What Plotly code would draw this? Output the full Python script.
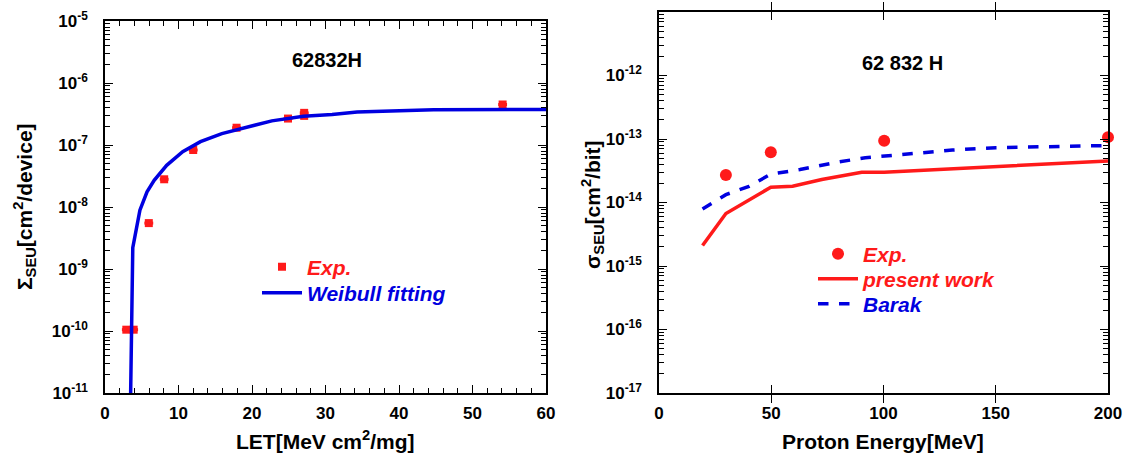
import plotly.graph_objects as go

# ---- Left panel data ----
let_exp = [2.9, 3.9, 5.96, 8.05, 12.0, 17.9, 24.9, 27.1, 27.1, 54.1]
sig_exp = [1.05e-10, 1.05e-10, 5.5e-9, 2.8e-8, 8.3e-8, 1.9e-7, 2.67e-7, 3.3e-7, 2.95e-7, 4.5e-7]

let_fit = [3.49, 3.59, 3.78, 4.75, 5.72, 6.69, 8.39, 10.57, 12.99, 15.9, 19.8, 22.7, 27.0, 30.9, 34.3, 39.2, 44.7, 60.0]
sig_fit = [1e-11, 1.0e-10, 2.2e-9, 8.9e-9, 1.76e-8, 2.7e-8, 4.7e-8, 7.8e-8, 1.13e-7, 1.53e-7, 2.0e-7,
           2.45e-7, 2.9e-7, 3.1e-7, 3.4e-7, 3.5e-7, 3.7e-7, 3.75e-7]

# ---- Right panel data ----
e_exp = [29.8, 49.8, 100.3, 200.0]
s_exp = [2.7e-14, 6.2e-14, 9.4e-14, 1.07e-13]

e_pw = [19.4, 29.8, 49.8, 59.5, 72.5, 90.3, 100.3, 150.2, 200.0]
s_pw = [2.1e-15, 6.7e-15, 1.74e-14, 1.8e-14, 2.3e-14, 3.0e-14, 3.0e-14, 3.7e-14, 4.5e-14]

e_bk = [19.4, 29.8, 40.1, 49.8, 62.8, 79.0, 91.9, 113.0, 130.7, 150.0, 200.0]
s_bk = [7.9e-15, 1.33e-14, 1.8e-14, 2.8e-14, 3.3e-14, 4.3e-14, 5.06e-14, 5.9e-14, 6.7e-14, 7.3e-14, 7.9e-14]

left_exps = [-11, -10, -9, -8, -7, -6, -5]
right_exps = [-17, -16, -15, -14, -13, -12]

W, H = 1129, 457
FONT = "Liberation Sans, Arial, sans-serif"
RED = "#ff1a1a"
BLUE = "#0000e0"


def px_x(p):
    return p / W


def px_y(p):
    return 1 - p / H


def minor_vals(e0, e1):
    out = []
    for e in range(e0, e1):
        for m in range(2, 10):
            out.append(m * 10 ** e)
    return out


fig = go.Figure()

fig.add_trace(go.Scatter(
    x=let_exp, y=sig_exp, mode="markers", xaxis="x", yaxis="y",
    marker=dict(symbol="square", size=8, color=RED),
    error_x=dict(type="constant", value=0.6, color=RED, thickness=3, width=0),
    name="<b><i>Exp.</i></b>", legend="legend", cliponaxis=False))
fig.add_trace(go.Scatter(
    x=let_fit, y=sig_fit, mode="lines", xaxis="x", yaxis="y",
    line=dict(color=BLUE, width=3.5),
    name="<b><i>Weibull fitting</i></b>", legend="legend2"))

fig.add_trace(go.Scatter(
    x=e_exp, y=s_exp, mode="markers", xaxis="x2", yaxis="y2",
    marker=dict(symbol="circle", size=12, color=RED),
    name="<b><i>Exp.</i></b>", legend="legend3", cliponaxis=False))
fig.add_trace(go.Scatter(
    x=e_pw, y=s_pw, mode="lines", xaxis="x2", yaxis="y2",
    line=dict(color=RED, width=3.5),
    name="<b><i>present work</i></b>", legend="legend4"))
fig.add_trace(go.Scatter(
    x=e_bk, y=s_bk, mode="lines", xaxis="x2", yaxis="y2",
    line=dict(color=BLUE, width=3.5, dash="dash"),
    name="<b><i>Barak</i></b>", legend="legend5"))

tickfont = dict(family=FONT, size=17, color="black", weight="bold")
axis_common = dict(showline=True, linecolor="black", linewidth=1.5, mirror="allticks",
                   ticks="inside", tickcolor="black", ticklen=8, tickwidth=1.3, automargin=False,
                   showgrid=False, zeroline=False, tickfont=tickfont)
overlay_common = dict(ticks="inside", ticklen=8, tickcolor="black", tickwidth=1.3, showticklabels=False,
                      showgrid=False, zeroline=False, showline=False, automargin=False)
minor_y = dict(ticks="inside", ticklen=5, tickcolor="black", tickwidth=1.2)

LX = [px_x(105), px_x(546)]
LY = [px_y(393), px_y(21)]
RX = [px_x(659), px_x(1108)]
RY = [px_y(393), px_y(12)]


def legend_box(x, y, color):
    return dict(x=px_x(x), y=px_y(y), xanchor="left", yanchor="middle", bgcolor="rgba(0,0,0,0)",
                font=dict(family=FONT, size=21, color=color), itemwidth=40, tracegroupgap=0)


def label(text, x, y, size, angle=0):
    return dict(text=text, x=px_x(x), y=px_y(y), xref="paper", yref="paper", xanchor="center",
                yanchor="middle", textangle=angle, showarrow=False,
                font=dict(family=FONT, size=size, color="black"))


fig.update_layout(
    width=W, height=H, plot_bgcolor="white", paper_bgcolor="white",
    margin=dict(l=0, r=0, t=0, b=0, autoexpand=False),
    xaxis=dict(domain=LX, anchor="y", range=[0, 60], dtick=10, tick0=0,
               minor=dict(dtick=2, ticks="inside", ticklen=5, tickcolor="black", tickwidth=1.2),
               ticklabelstandoff=4, **axis_common),
    yaxis=dict(domain=LY, anchor="x", type="log", range=[-11, -5],
               tickvals=[10 ** e for e in left_exps],
               ticktext=["10<sup>%d</sup>" % e for e in left_exps],
               minor=dict(tickvals=minor_vals(-11, -5), **minor_y),
               ticklabelstandoff=12, **axis_common),
    xaxis3=dict(domain=LX, anchor="y", overlaying="x", side="top", range=[0, 60], dtick=10, tick0=0,
                minor=dict(dtick=2, ticks="inside", ticklen=5, tickcolor="black", tickwidth=1.2),
                **overlay_common),
    yaxis3=dict(domain=LY, anchor="x", overlaying="y", side="right", type="log", range=[-11, -5],
                tickvals=[10 ** e for e in left_exps], minor=dict(tickvals=minor_vals(-11, -5), **minor_y),
                **overlay_common),
    xaxis2=dict(domain=RX, anchor="y2", range=[0, 200], dtick=50, tick0=0,
                ticklabelstandoff=4, **axis_common),
    yaxis2=dict(domain=RY, anchor="x2", type="log", range=[-17, -11],
                tickvals=[10 ** e for e in right_exps],
                ticktext=["10<sup>%d</sup>" % e for e in right_exps],
                minor=dict(tickvals=minor_vals(-17, -11), **minor_y),
                ticklabelstandoff=12, **axis_common),
    yaxis4=dict(domain=RY, anchor="x2", overlaying="y2", side="right", type="log", range=[-17, -11],
                tickvals=[10 ** e for e in right_exps], minor=dict(tickvals=minor_vals(-17, -11), **minor_y),
                **overlay_common),
    legend=legend_box(257, 267, RED),
    legend2=legend_box(257, 293, BLUE),
    legend3=legend_box(813, 254, RED),
    legend4=legend_box(813, 279, RED),
    legend5=legend_box(813, 304, BLUE),
    showlegend=True,
    annotations=[
        label("<b>62832H</b>", 327, 60, 20),
        label("<b>62 832 H</b>", 902, 63, 20),
        label("<b>LET[MeV cm<sup>2</sup>/mg]</b>", 325, 440, 21),
        label("<b>Proton Energy[MeV]</b>", 883, 441, 21),
        label("<b>Σ<sub>SEU</sub>[cm<sup>2</sup>/device]</b>", 24, 207, 21, -90),
        label("<b>σ<sub>SEU</sub>[cm<sup>2</sup>/bit]</b>", 592, 205, 21, -90),
    ],
)

# invisible anchor traces so the overlay axes are drawn
fig.add_trace(go.Scatter(x=[None], y=[None], xaxis="x3", yaxis="y3", showlegend=False, hoverinfo="skip"))
fig.add_trace(go.Scatter(x=[None], y=[None], xaxis="x2", yaxis="y4", showlegend=False, hoverinfo="skip"))

fig.write_html("out.html", config={"displayModeBar": False},
               post_script="document.body.style.margin='0';document.body.style.overflow='hidden';")
